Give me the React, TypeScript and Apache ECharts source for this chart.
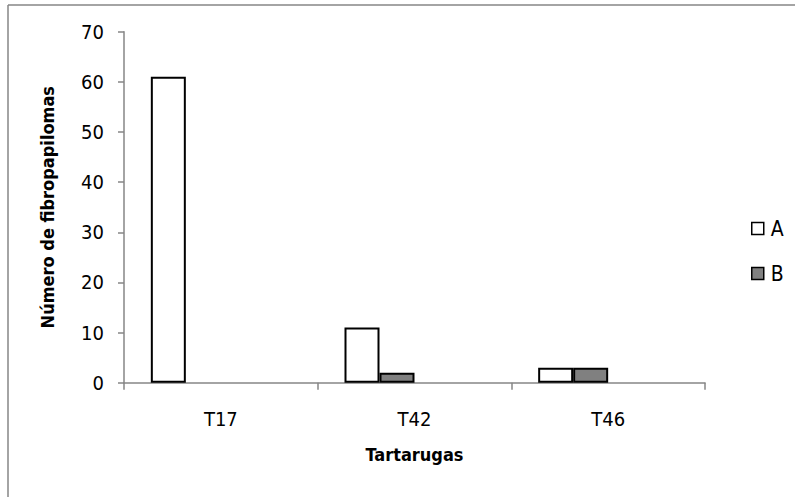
import React, { useEffect, useRef } from "react";
import * as echarts from "echarts";

const categories = ["T17", "T42", "T46"];
const seriesA = [61, 11, 3];
const seriesB = [0, 2, 3];
// two unused slots in each cluster keep A and B left of the category centre
const emptySlot = [null, null, null];
const yTicks = { min: 0, max: 70, interval: 10 };

const FONT = "'Liberation Sans Narrow', 'DejaVu Sans Condensed', 'Noto Sans', sans-serif";
const AXIS_GRAY = "#868686";

// a zero-height bar draws no outline
const withOutline = (values: number[]) =>
  values.map((v) => (v === 0 ? { value: v, itemStyle: { borderWidth: 0 } } : v));

export default function App() {
  const ref = useRef<HTMLDivElement>(null);

  useEffect(() => {
    if (!ref.current) return;
    const chart = echarts.init(ref.current, null, { renderer: "svg" });
    chart.setOption({
      animation: false,
      backgroundColor: "#ffffff",
      textStyle: { fontFamily: FONT },
      grid: { left: 124, top: 31.7, right: 90, bottom: 114.3, containLabel: false },
      legend: {
        orient: "vertical",
        left: 746,
        top: 213,
        icon: "rect",
        itemWidth: 12,
        itemHeight: 12,
        itemGap: 24,
        data: ["A", "B"],
        itemStyle: { borderColor: "#000", borderWidth: 1.5 },
        textStyle: { fontFamily: FONT, fontSize: 21, color: "#000", padding: [0, 0, 0, 2] },
      },
      xAxis: {
        type: "category",
        data: categories,
        name: "Tartarugas",
        nameLocation: "middle",
        nameGap: 63,
        nameTextStyle: { fontFamily: FONT, fontSize: 18, fontWeight: "bold", color: "#000" },
        axisLine: { lineStyle: { color: AXIS_GRAY, width: 1.5 } },
        axisTick: { show: true, length: 7, lineStyle: { color: AXIS_GRAY, width: 1.5 } },
        axisLabel: { fontFamily: FONT, fontSize: 20, color: "#000", margin: 26 },
        splitLine: { show: false },
      },
      yAxis: {
        type: "value",
        min: yTicks.min,
        max: yTicks.max,
        interval: yTicks.interval,
        name: "Número de fibropapilomas",
        nameLocation: "middle",
        nameGap: 68,
        nameTextStyle: { fontFamily: FONT, fontSize: 18, fontWeight: "bold", color: "#000" },
        axisLine: { show: true, lineStyle: { color: AXIS_GRAY, width: 1.5 } },
        axisTick: { show: true, length: 6, lineStyle: { color: AXIS_GRAY, width: 1.5 } },
        axisLabel: { fontFamily: FONT, fontSize: 20, color: "#000", margin: 20 },
        splitLine: { show: false },
      },
      series: [
        {
          name: "A",
          type: "bar",
          data: withOutline(seriesA),
          barWidth: 35,
          barGap: "0%",
          itemStyle: { color: "#ffffff", borderColor: "#000000", borderWidth: 2 },
        },
        {
          name: "B",
          type: "bar",
          data: withOutline(seriesB),
          barWidth: 35,
          barGap: "0%",
          itemStyle: { color: "#808080", borderColor: "#000000", borderWidth: 2 },
        },
        { name: "C", type: "bar", data: emptySlot, barWidth: 35, barGap: "0%" },
        { name: "D", type: "bar", data: emptySlot, barWidth: 35, barGap: "0%" },
      ],
      graphic: [
        { type: "line", shape: { x1: 8, y1: 5, x2: 795, y2: 5 }, style: { stroke: AXIS_GRAY, lineWidth: 1.5 } },
        { type: "line", shape: { x1: 8, y1: 5, x2: 8, y2: 497 }, style: { stroke: AXIS_GRAY, lineWidth: 1.5 } },
      ],
    });
    return () => chart.dispose();
  }, []);

  return <div ref={ref} style={{ width: 795, height: 497, position: "absolute", left: 0, top: 0 }} />;
}
